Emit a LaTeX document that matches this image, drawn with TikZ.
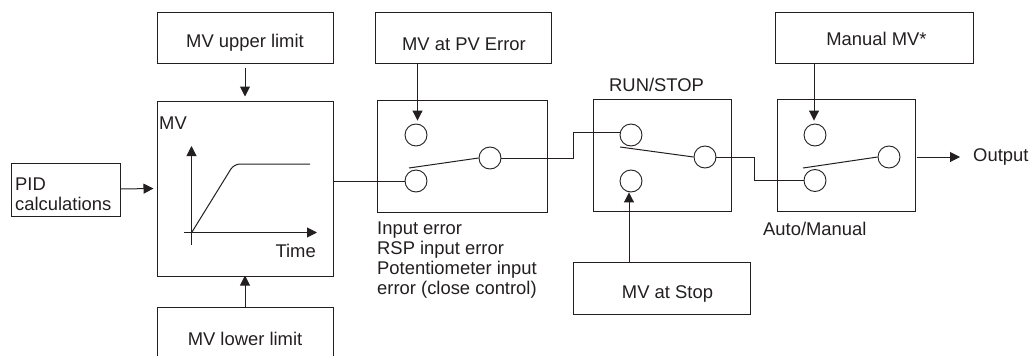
\documentclass[tikz,border=0pt]{standalone}
\usepackage{fontspec}
\setmainfont{Liberation Sans}
\usetikzlibrary{arrows.meta}
\definecolor{ink}{HTML}{231F20}
\tikzset{
  boxnode/.style={draw=ink,line width=1pt,inner sep=0pt,font=\fontsize{18.4}{20}\selectfont,text=ink},
  contact/.style={circle,draw=ink,line width=0.9pt,fill=none,minimum size=22pt,inner sep=0pt},
  labelnode/.style={font=\fontsize{18.4}{20}\selectfont,text=ink,inner sep=0pt},
  wire/.style={draw=ink,line width=1pt},
  flow/.style={wire,-{Triangle[length=10pt,width=10pt]}}
}
\begin{document}
\begin{tikzpicture}[x=1pt,y=-1pt]
        \useasboundingbox (0,0) rectangle (1031,356);
        \clip (0,0) rectangle (1031,356);
        % limit block
        \node[boxnode,minimum width=176pt,minimum height=51pt] (upper) at (245,37.5) {};
        \node[labelnode] (upperlabel) at (245,42.5) {MV upper limit};
        \node[boxnode,minimum width=176pt,minimum height=175pt] (limit) at (245,188.5) {};
        \node[boxnode,minimum width=176pt,minimum height=64pt] (lower) at (245,339) {MV lower limit};
        \node[boxnode,minimum width=109pt,minimum height=53pt] (pid) at (65.5,189.5) {};
        \node[labelnode,anchor=west,align=left] (pidlabel) at (15,194.5) {PID\\calculations};
        \node[labelnode,anchor=west] (mvlabel) at (159,123) {MV};
        \node[labelnode,anchor=east] (timelabel) at (316,251) {Time};
        \draw[flow] (191.5,245) -- (191.5,146);
        \draw[flow] (184,232.5) -- (317,232.5);
        \draw[wire,rounded corners=6pt] (192,232) -- (234,164) -- (310,164);
        % error switch
        \node[boxnode,minimum width=176pt,minimum height=51pt] (pverror) at (463,37.5) {};
        \node[labelnode] (pverrorlabel) at (464,44.5) {MV at PV Error};
        \node[boxnode,minimum width=170pt,minimum height=112pt] (errorbox) at (462,156) {};
        \node[contact] (errtop) at (416,135) {};
        \node[contact] (errlow) at (416,181) {};
        \node[contact] (errout) at (490,158) {};
        \coordinate (errarm) at (409,168);
        \node[labelnode,anchor=north west,align=left] (errlabel) at (377,222) {Input error\\RSP input error\\Potentiometer input\\error (close control)};
        % run/stop switch
        \node[boxnode,minimum width=138pt,minimum height=112pt] (runbox) at (662,155) {};
        \node[labelnode,anchor=west] (runlabel) at (609,85) {RUN/STOP};
        \node[contact] (runtop) at (631,135) {};
        \node[contact] (runlow) at (631,181) {};
        \node[contact] (runout) at (705,157) {};
        \coordinate (runarm) at (620,147);
        \node[boxnode,minimum width=177pt,minimum height=52pt] (stopval) at (661.5,288) {};
        \node[labelnode] (stoplabel) at (667.5,294) {MV at Stop};
        % auto/manual switch
        \node[boxnode,minimum width=198pt,minimum height=51pt] (manual) at (874,37.5) {};
        \node[labelnode] (manuallabel) at (876.5,38.5) {Manual MV*};
        \node[boxnode,minimum width=138pt,minimum height=112pt] (autobox) at (846,155) {};
        \node[contact] (autotop) at (815,135) {};
        \node[contact] (autolow) at (815,180.5) {};
        \node[contact] (autoout) at (889,157) {};
        \coordinate (autoarm) at (803,168);
        \node[labelnode,anchor=west] (autolabel) at (763,229) {Auto/Manual};
        \node[labelnode,anchor=west] (outlabel) at (973,157) {Output};
        % connectors
        \draw[flow,shorten <=4pt,shorten >=4pt] (upper.south) -- (limit.north);
        \draw[flow] (lower.north) -- ([yshift=1pt]limit.south);
        \draw[flow] ([yshift=0.5pt]pid.east) -- ([xshift=-3pt]limit.west);
        \draw[wire] (limit.east |- errlow.west) -- (errlow.west);
        \draw[flow,shorten >=3pt] ([xshift=1.5pt]pverror.south -| errtop) -- ([xshift=1.5pt]errtop.north);
        \draw[wire] (errarm) -- (errout.west);
        \draw[wire] (errout.east) -- ++(72,0) |- (runtop.165);
        \draw[flow,shorten >=1pt] (stopval.north -| runlow) ++(-2,0) -- ([xshift=-2pt,yshift=1pt]runlow.south);
        \draw[wire] (runarm) -- (runout.west);
        \draw[wire] (runout.east) -- ++(38,0) |- (autolow.west);
        \draw[flow,shorten >=3pt] (manual.south -| autotop) ++(-1,0) -- ([xshift=-1pt]autotop.north);
        \draw[wire] (autoarm) -- (autoout.west);
        \draw[flow] ([xshift=1pt]autobox.east |- autoout) -- ([xshift=-13pt]outlabel.west);
      \end{tikzpicture}
\end{document}
